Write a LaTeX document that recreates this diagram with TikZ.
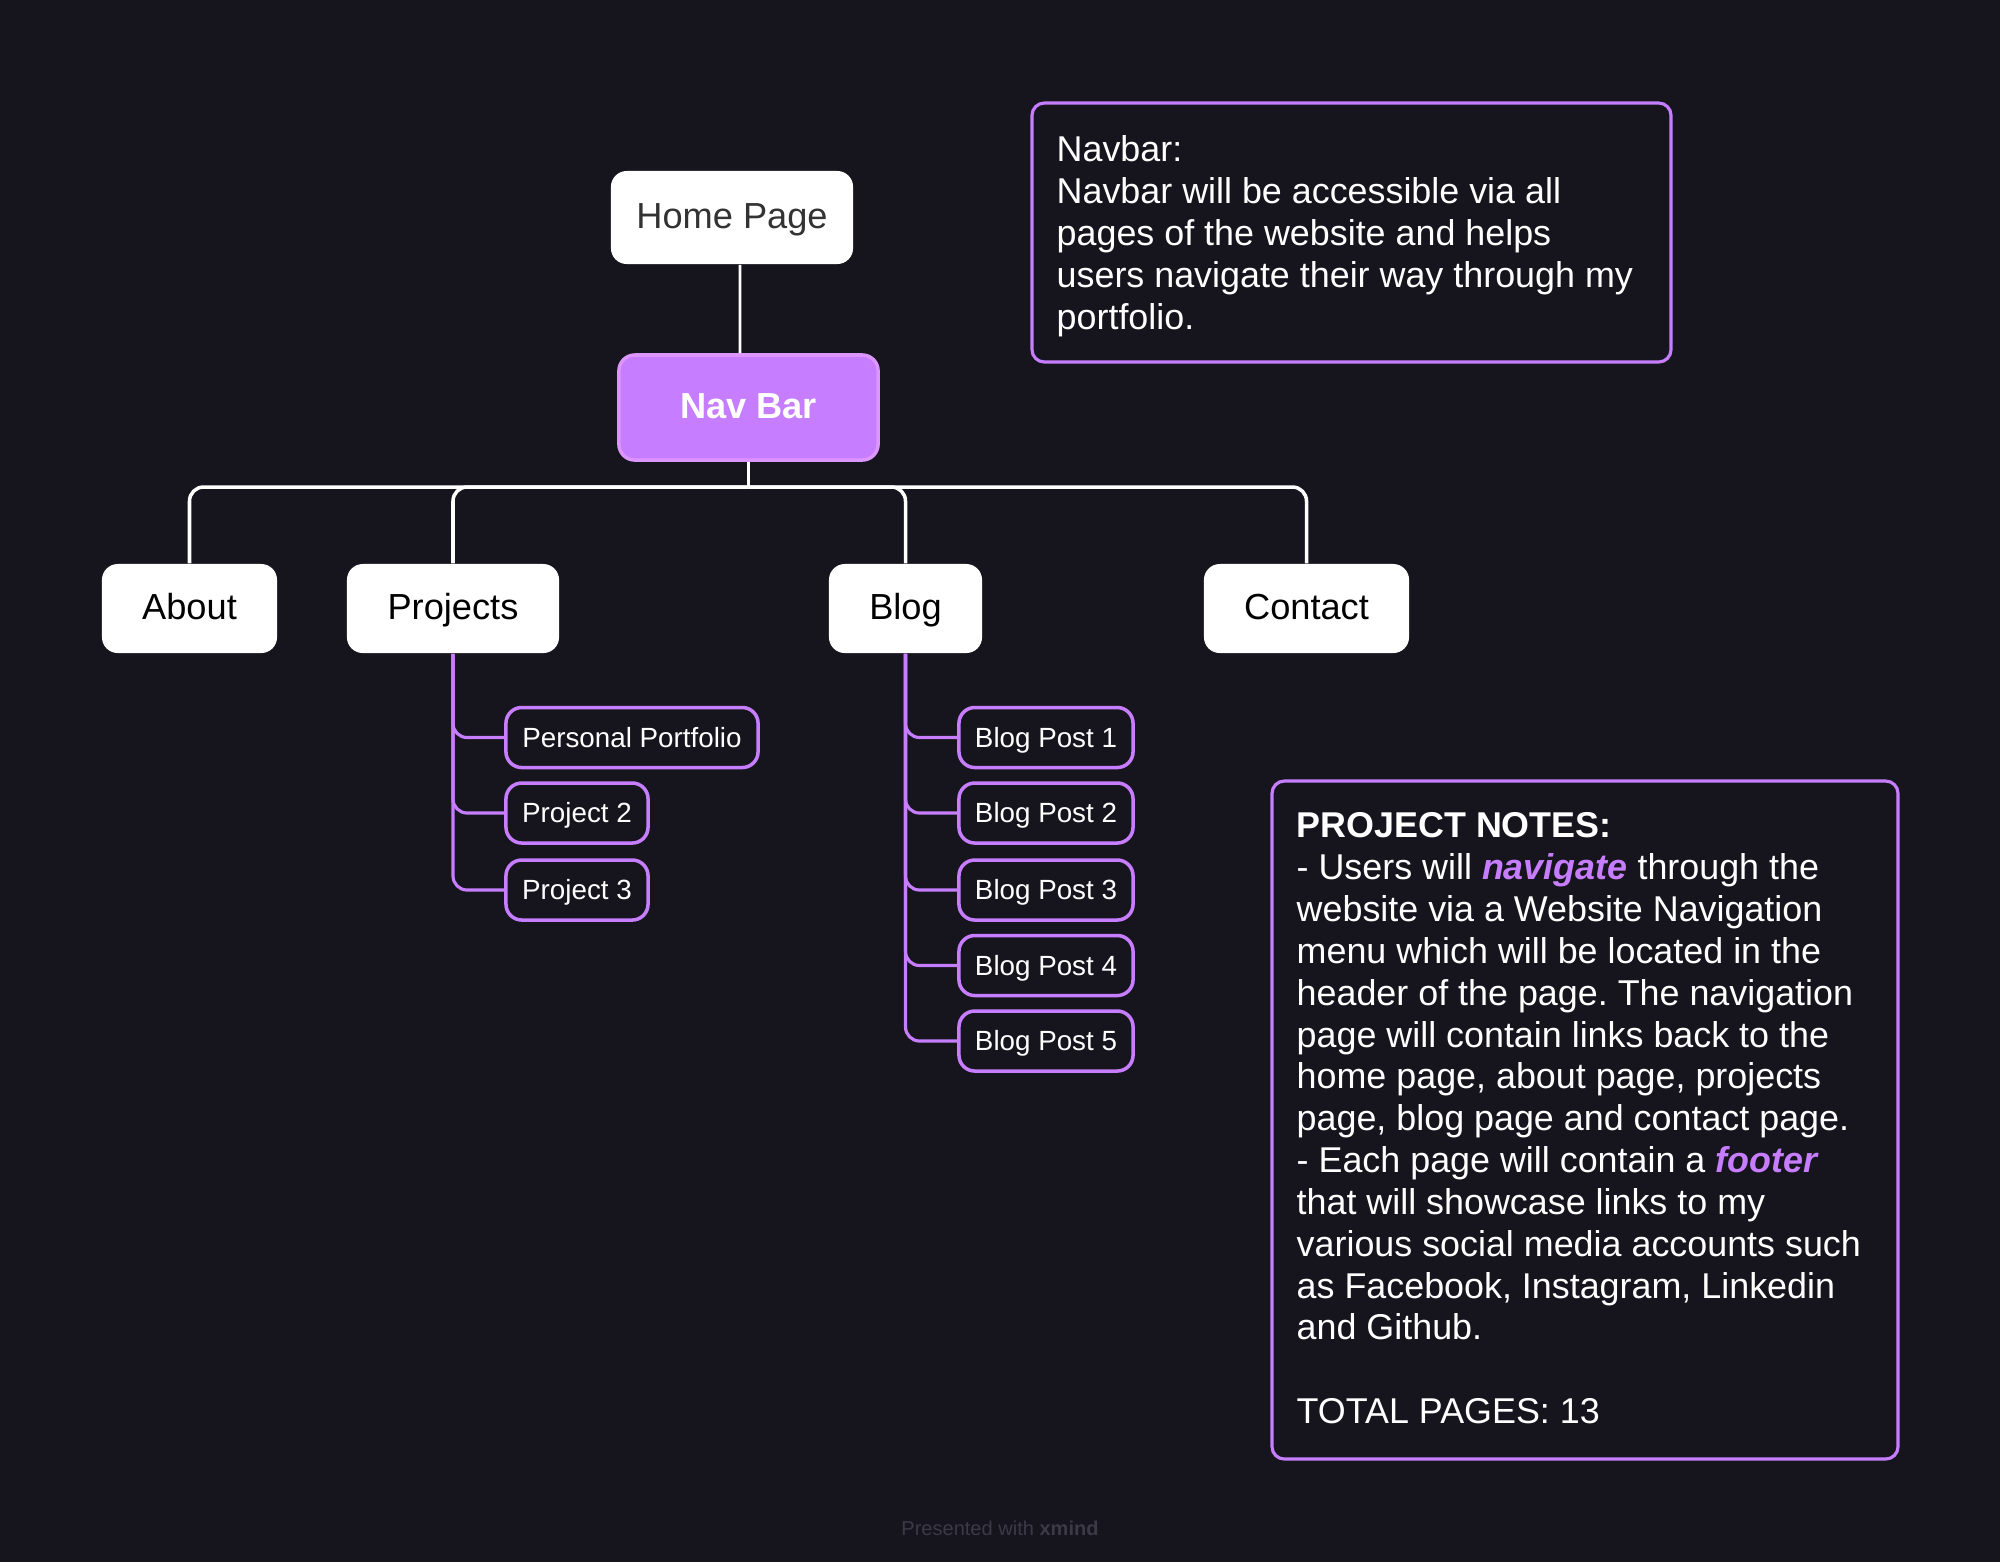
\documentclass[tikz,border=0pt]{standalone}
\usepackage{fontspec}
\setmainfont{Liberation Sans}
\frenchspacing
\definecolor{bg}{HTML}{16141D}
\definecolor{purp}{HTML}{C77DFF}
\definecolor{purpedge}{HTML}{DD95FF}
\definecolor{navcol}{HTML}{C77DFF}
\definecolor{footgrey}{HTML}{3C3A45}
\definecolor{hometext}{HTML}{333333}
\begin{document}
\begin{tikzpicture}[x=0.01cm,y=-0.01cm,
  mainbox/.style={fill=white, rounded corners=4.5pt, inner sep=0pt, minimum height=0.89cm, text height=0.83em, text depth=0.184em, font=\fontsize{10.3}{12}\selectfont, text=black},
  navbox/.style={fill=navcol, draw=purpedge, line width=1pt, rounded corners=4.5pt, minimum width=2.59cm, minimum height=1.05cm, inner sep=0pt, text height=0.83em, text depth=0.184em, font=\fontsize{10.3}{12}\selectfont\bfseries, text=white},
  subbox/.style={draw=purp, line width=1pt, fill=bg, rounded corners=4.5pt, minimum height=0.6cm, inner sep=0pt, text height=0.74em, text depth=0.184em, font=\fontsize{7.9}{9}\selectfont, text=white},
  wline/.style={draw=white, line width=1pt},
  pline/.style={draw=purp, line width=0.9pt, rounded corners=4pt},
  notebox/.style={draw=purp, line width=0.9pt, rounded corners=3.5pt},
  notetext/.style={text=white, align=left, inner sep=0pt, anchor=north west, font=\fontsize{10.2}{11.9}\selectfont}
]
\fill[bg] (0,0) rectangle (2000,1562);
\useasboundingbox (0,0) rectangle (2000,1562);

% main nodes
\node[mainbox, minimum width=2.42cm, minimum height=0.93cm, text=hometext] (home) at (732,217.5) {Home Page};
\node[navbox] (nav) at (748.5,407.5) {Nav Bar};
\node[mainbox, minimum width=1.75cm] (about) at (189.5,608.5) {About};
\node[mainbox, minimum width=2.12cm] (projects) at (453,608.5) {Projects};
\node[mainbox, minimum width=1.53cm] (blog) at (905.5,608.5) {Blog};
\node[mainbox, minimum width=2.05cm] (contact) at (1306.5,608.5) {Contact};

% sub nodes
\node[subbox, minimum width=2.52cm] (pp) at (632,737.5) {Personal Portfolio};
\node[subbox, minimum width=1.42cm] (p2) at (577,813) {Project 2};
\node[subbox, minimum width=1.42cm] (p3) at (577,890) {Project 3};
\node[subbox, minimum width=1.74cm] (b1) at (1046,737.5) {Blog Post 1};
\node[subbox, minimum width=1.74cm] (b2) at (1046,813) {Blog Post 2};
\node[subbox, minimum width=1.74cm] (b3) at (1046,890) {Blog Post 3};
\node[subbox, minimum width=1.74cm] (b4) at (1046,965.5) {Blog Post 4};
\node[subbox, minimum width=1.74cm] (b5) at (1046,1041) {Blog Post 5};

% connectors
\draw[wline, line width=0.8pt] ([xshift=0.08cm]home.south) -- ([xshift=-0.085cm]nav.north);
\coordinate (barlevel) at (0,487);
\coordinate (j) at (nav.south |- barlevel);
\draw[wline] (nav.south) -- (j);
\draw[wline, rounded corners=4pt] (j) -| (about.north);
\draw[wline, rounded corners=4pt] (j) -| (projects.north);
\draw[wline, rounded corners=4pt] (j) -| (blog.north);
\draw[wline, rounded corners=4pt] (j) -| (contact.north);

\draw[pline] (projects.south) |- (pp.west);
\draw[pline] (projects.south) |- (p2.west);
\draw[pline] (projects.south) |- (p3.west);
\draw[pline] (blog.south) |- (b1.west);
\draw[pline] (blog.south) |- (b2.west);
\draw[pline] (blog.south) |- (b3.west);
\draw[pline] (blog.south) |- (b4.west);
\draw[pline] (blog.south) |- (b5.west);

% note boxes
\draw[notebox] (1032,103) rectangle (1671,362);
\node[notetext] (navnote) at (1056,135) {Navbar:\\
Navbar will be accessible via all\\
pages of the website and helps\\
users navigate their way through my\\
portfolio.};

\draw[notebox] (1272,781) rectangle (1898,1459);
\node[notetext] (projnote) at (1296,812) {\textbf{PROJECT NOTES:}\\
- Users will \textcolor{purp}{\textbf{\textit{navigate}}} through the\\
website via a Website Navigation\\
menu which will be located in the\\
header of the page. The navigation\\
page will contain links back to the\\
home page, about page, projects\\
page, blog page and contact page.\\
- Each page will contain a \textcolor{purp}{\textbf{\textit{footer}}}\\
that will showcase links to my\\
various social media accounts such\\
as Facebook, Instagram, Linkedin\\
and Github.\\
\mbox{}\\
TOTAL PAGES: 13};

\node[font=\fontsize{5.7}{7}\selectfont, text=footgrey] (foot) at (1000,1528) {Presented with \textbf{xmind}};
\end{tikzpicture}
\end{document}
